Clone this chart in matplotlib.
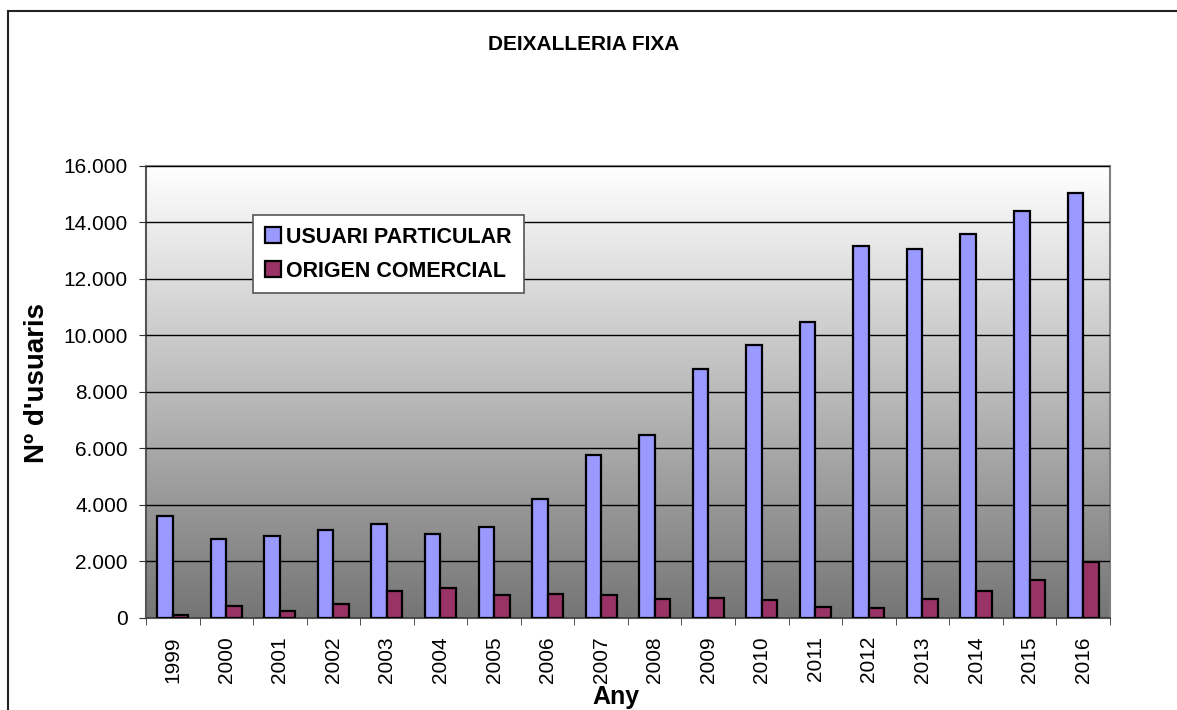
import numpy as np
import matplotlib
matplotlib.use("Agg")
import matplotlib.pyplot as plt
from matplotlib.ticker import FuncFormatter, FixedLocator
from matplotlib.patches import Rectangle

plt.rcParams['font.family'] = ['Liberation Sans', 'DejaVu Sans']

# --- data ---
years = ['1999', '2000', '2001', '2002', '2003', '2004', '2005', '2006', '2007',
         '2008', '2009', '2010', '2011', '2012', '2013', '2014', '2015', '2016']
usuari_particular = [3600, 2790, 2890, 3120, 3330, 2980, 3220, 4220, 5780,
                     6460, 8820, 9660, 10470, 13160, 13070, 13600, 14410, 15060]
origen_comercial = [120, 410, 260, 510, 940, 1060, 830, 860, 810,
                    680, 710, 640, 400, 370, 660, 940, 1360, 1980]

fig = plt.figure(figsize=(11.77, 7.10), dpi=100)
ax = fig.add_axes([0.124, 0.1296, 0.819, 0.6366])

# figure frame (runs off the right/bottom edge like the original)
fig.patches.append(Rectangle((8 / 1177, -0.1), 1.2, 1 - 11 / 710 + 0.1,
                             transform=fig.transFigure, fill=False,
                             edgecolor='#222222', linewidth=1.5))

# gradient background: white at top, grey at bottom
grad = np.linspace(0.46, 1.0, 256).reshape(-1, 1)
ax.imshow(np.dstack([grad, grad, grad]), extent=[0, 1, 0, 1], origin='lower',
          transform=ax.transAxes, aspect='auto', zorder=0)

x = np.arange(len(years))
w = 0.29
ax.bar(x - w / 2, usuari_particular, w, color='#9999FF', edgecolor='black',
       linewidth=1.6, label='USUARI PARTICULAR', zorder=3)
ax.bar(x + w / 2, origen_comercial, w, color='#993366', edgecolor='black',
       linewidth=1.6, label='ORIGEN COMERCIAL', zorder=3)

ax.set_xlim(-0.5, len(years) - 0.5)
ax.set_ylim(0, 16000)
ax.set_yticks(np.arange(0, 16001, 2000))
ax.yaxis.set_major_formatter(FuncFormatter(lambda v, p: f"{int(v):,}".replace(',', '.')))
ax.grid(axis='y', color='black', linewidth=1, zorder=1)
ax.set_axisbelow(False)

ax.set_xticks(x)
ax.set_xticklabels(years, rotation=90, fontsize=15)
ax.tick_params(axis='x', length=0, pad=13)
ax.xaxis.set_minor_locator(FixedLocator(np.arange(-0.5, len(years), 1)))
ax.tick_params(axis='x', which='minor', length=5, direction='out', color='#333333')
ax.tick_params(axis='y', length=5, direction='out', labelsize=15, pad=8, color='#333333')

for s in ['top', 'right']:
    ax.spines[s].set_color('#808080')
    ax.spines[s].set_linewidth(1.5)
ax.spines['left'].set_color('#555555')
ax.spines['left'].set_linewidth(1.5)
ax.spines['bottom'].set_color('#555555')
ax.spines['bottom'].set_linewidth(1.5)

fig.text(37 / 1177, 1 - 383 / 710, "Nº d'usuaris", rotation=90, ha='center', va='center',
         fontsize=20, fontweight='bold')
fig.text(616 / 1177, 1 - 697 / 710, 'Any', ha='center', va='center',
         fontsize=18, fontweight='bold')
fig.text(584 / 1177, 1 - 45 / 710, 'DEIXALLERIA FIXA', ha='center', va='center',
         fontsize=15, fontweight='bold')

leg = ax.legend(loc='upper left', bbox_to_anchor=(0.111, 0.892), fancybox=False,
                framealpha=1, edgecolor='#555555', prop={'weight': 'bold', 'size': 15.5},
                handlelength=0.75, handleheight=0.75, handletextpad=0.25,
                borderpad=0.55, labelspacing=0.6, borderaxespad=0)
leg.get_frame().set_linewidth(1.2)
leg.set_zorder(5)

fig.savefig('out.png', dpi=100)
